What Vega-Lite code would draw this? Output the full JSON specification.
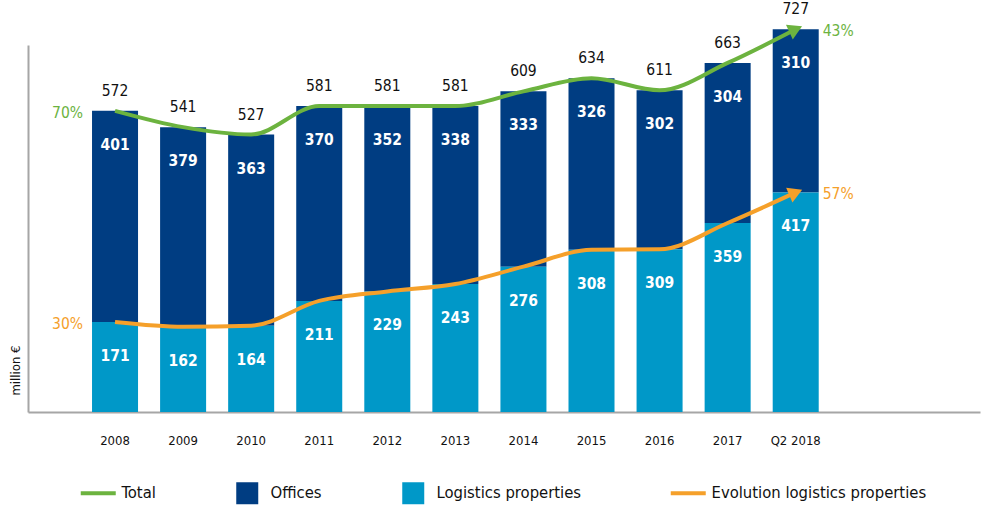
{
  "$schema": "https://vega.github.io/schema/vega-lite/v6.json",
  "autosize": {"type": "none"},
  "padding": {"left": 28, "top": 45, "right": 1, "bottom": 97},
  "width": 952,
  "height": 367,
  "config": {
    "view": {"stroke": null},
    "font": "DejaVu Sans Condensed, Liberation Sans Narrow, Roboto",
    "axis": {"grid": false}
  },
  "datasets": {
    "main": [
      {"year": "2008", "Offices": 401, "Logistics properties": 171, "Total": 572},
      {"year": "2009", "Offices": 379, "Logistics properties": 162, "Total": 541},
      {"year": "2010", "Offices": 363, "Logistics properties": 164, "Total": 527},
      {"year": "2011", "Offices": 370, "Logistics properties": 211, "Total": 581},
      {"year": "2012", "Offices": 352, "Logistics properties": 229, "Total": 581},
      {"year": "2013", "Offices": 338, "Logistics properties": 243, "Total": 581},
      {"year": "2014", "Offices": 333, "Logistics properties": 276, "Total": 609},
      {"year": "2015", "Offices": 326, "Logistics properties": 308, "Total": 634},
      {"year": "2016", "Offices": 302, "Logistics properties": 309, "Total": 611},
      {"year": "2017", "Offices": 304, "Logistics properties": 359, "Total": 663},
      {"year": "Q2 2018", "Offices": 310, "Logistics properties": 417, "Total": 727}
    ],
    "pctLeft": [
      {"year": "2008", "value": 572, "label": "70%", "series": "Total"},
      {"year": "2008", "value": 171, "label": "30%", "series": "Evolution logistics properties"}
    ],
    "pctRight": [
      {"year": "Q2 2018", "value": 727, "label": "43%", "series": "Total"},
      {"year": "Q2 2018", "value": 417, "label": "57%", "series": "Evolution logistics properties"}
    ]
  },
  "data": {"name": "main"},
  "encoding": {
    "x": {
      "field": "year", "type": "nominal", "sort": null,
      "scale": {
        "domain": ["2008", "2009", "2010", "2011", "2012", "2013", "2014", "2015", "2016", "2017", "Q2 2018", " ", "  "],
        "paddingInner": 0.324, "paddingOuter": 0.655, "align": 0.718, "round": false
      },
      "axis": {"title": null, "labelAngle": 0, "ticks": false, "labelPadding": 22, "labelFontSize": 13, "labelColor": "#111111", "domainColor": "#a6a6a6", "domainWidth": 2}
    }
  },
  "layer": [
    {
      "transform": [{"fold": ["Offices", "Logistics properties"], "as": ["series", "value"]}],
      "mark": {"type": "bar"},
      "encoding": {
        "y": {
          "field": "value", "type": "quantitative", "stack": "zero",
          "scale": {"domain": [0, 697], "nice": false},
          "axis": {"title": "million €", "labels": false, "ticks": false, "domainColor": "#a6a6a6", "domainWidth": 2, "titleFontSize": 13, "titleFontWeight": "normal", "titleColor": "#111111", "titleX": -13, "titleY": 325, "titleAlign": "center", "titleBaseline": "middle", "titleAngle": -90}
        },
        "color": {
          "field": "series", "type": "nominal",
          "scale": {
            "domain": ["Total", "Offices", "Logistics properties", "Evolution logistics properties"],
            "range": ["#6cb33f", "#003d82", "#0098c8", "#f5a02a"]
          },
          "legend": {
            "title": null,
            "orient": "none",
            "legendX": 62,
            "legendY": 440,
            "direction": "horizontal",
            "columns": 4,
            "columnPadding": 80,
            "gridAlign": "none",
            "labelFontSize": 16.5,
            "labelColor": "#111111",
            "labelOffset": 15,
            "labelLimit": 400,
            "symbolSize": 1225,
            "encode": {
              "symbols": {
                "update": {
                  "shape": {"signal": "datum.value === 'Total' || datum.value === 'Evolution logistics properties' ? 'stroke' : 'square'"},
                  "size": {"signal": "datum.value === 'Total' || datum.value === 'Evolution logistics properties' ? 1225 : 484"},
                  "fill": {"scale": "color", "field": "value"},
                  "stroke": {"scale": "color", "field": "value"},
                  "strokeWidth": {"signal": "datum.value === 'Total' || datum.value === 'Evolution logistics properties' ? 4 : 0"},
                  "opacity": {"value": 1},
                  "fillOpacity": {"value": 1},
                  "strokeOpacity": {"value": 1}
                }
              }
            }
          }
        },
        "order": {"field": "series", "sort": "ascending"}
      }
    },
    {
      "mark": {"type": "line", "strokeWidth": 4, "interpolate": "monotone"},
      "encoding": {
        "y": {"field": "Total", "type": "quantitative"},
        "color": {"datum": "Total"}
      }
    },
    {
      "mark": {"type": "line", "strokeWidth": 4, "interpolate": "monotone"},
      "encoding": {
        "y": {"field": "Logistics properties", "type": "quantitative"},
        "color": {"datum": "Evolution logistics properties"}
      }
    },
    {
      "transform": [{"filter": "datum.year === 'Q2 2018'"}],
      "mark": {"type": "point", "shape": "triangle-right", "filled": true, "size": 260, "angle": -25, "opacity": 1},
      "encoding": {
        "y": {"field": "Total", "type": "quantitative"},
        "color": {"datum": "Total"}
      }
    },
    {
      "transform": [{"filter": "datum.year === 'Q2 2018'"}],
      "mark": {"type": "point", "shape": "triangle-right", "filled": true, "size": 260, "angle": -23, "opacity": 1},
      "encoding": {
        "y": {"field": "Logistics properties", "type": "quantitative"},
        "color": {"datum": "Evolution logistics properties"}
      }
    },
    {
      "mark": {"type": "text", "baseline": "alphabetic", "dy": -15, "fontSize": 15.5, "color": "#111111"},
      "encoding": {
        "y": {"field": "Total", "type": "quantitative"},
        "text": {"field": "Total", "type": "quantitative"}
      }
    },
    {
      "mark": {"type": "text", "baseline": "middle", "dy": 34, "fontSize": 15.5, "fontWeight": "bold", "color": "#ffffff"},
      "encoding": {
        "y": {"field": "Total", "type": "quantitative"},
        "text": {"field": "Offices", "type": "quantitative"}
      }
    },
    {
      "mark": {"type": "text", "baseline": "middle", "dy": 34, "fontSize": 15.5, "fontWeight": "bold", "color": "#ffffff"},
      "encoding": {
        "y": {"field": "Logistics properties", "type": "quantitative"},
        "text": {"field": "Logistics properties", "type": "quantitative"}
      }
    },
    {
      "data": {"name": "pctLeft"},
      "mark": {"type": "text", "align": "right", "baseline": "middle", "dx": -32, "dy": 2, "fontSize": 15.5},
      "encoding": {
        "y": {"field": "value", "type": "quantitative"},
        "text": {"field": "label"},
        "color": {"field": "series", "type": "nominal"}
      }
    },
    {
      "data": {"name": "pctRight"},
      "mark": {"type": "text", "align": "left", "baseline": "middle", "dx": 27, "dy": 2, "fontSize": 15.5},
      "encoding": {
        "y": {"field": "value", "type": "quantitative"},
        "text": {"field": "label"},
        "color": {"field": "series", "type": "nominal"}
      }
    }
  ]
}
